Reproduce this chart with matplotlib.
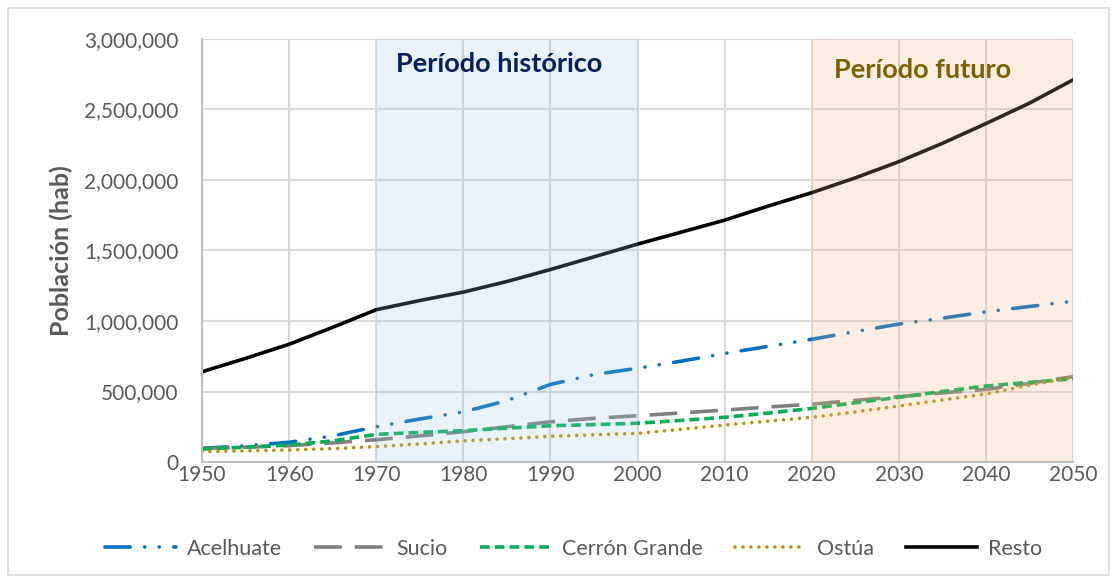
import numpy as np
import matplotlib
matplotlib.use('Agg')
import matplotlib.pyplot as plt
from matplotlib.patches import Rectangle
from matplotlib.ticker import FuncFormatter

plt.rcParams['font.family'] = ['Lato', 'DejaVu Sans']

years = list(range(1950, 2051, 5))

acelhuate = [97e3, 115e3, 140e3, 185e3, 250e3, 305e3, 355e3, 435e3, 550e3, 620e3, 665e3,
             715e3, 770e3, 820e3, 870e3, 925e3, 978e3, 1020e3, 1065e3, 1103e3, 1140e3]
sucio = [95e3, 105e3, 116e3, 135e3, 158e3, 185e3, 215e3, 250e3, 285e3, 310e3, 328e3,
         348e3, 368e3, 390e3, 410e3, 437e3, 463e3, 490e3, 515e3, 558e3, 605e3]
cerron_grande = [92e3, 105e3, 120e3, 150e3, 196e3, 210e3, 222e3, 240e3, 257e3, 265e3, 275e3,
                 295e3, 317e3, 347e3, 380e3, 420e3, 459e3, 500e3, 539e3, 565e3, 590e3]
ostua = [73e3, 79e3, 85e3, 95e3, 109e3, 128e3, 150e3, 165e3, 182e3, 193e3, 203e3,
         232e3, 262e3, 290e3, 317e3, 355e3, 397e3, 440e3, 482e3, 545e3, 600e3]
resto = [640e3, 735e3, 835e3, 955e3, 1080e3, 1145e3, 1205e3, 1280e3, 1365e3, 1455e3, 1545e3,
         1630e3, 1715e3, 1815e3, 1910e3, 2015e3, 2130e3, 2260e3, 2400e3, 2545e3, 2710e3]

series = [
    ('Acelhuate', acelhuate, '#0070C0', (0, (7.0, 4.0, 0.01, 4.0, 0.01, 4.0)), 2.6, 'round'),
    ('Sucio', sucio, '#808080', (0, (7.7, 3.6)), 2.6, 'butt'),
    ('Cerrón Grande', cerron_grande, '#00B050', (0, (2.7, 1.4)), 2.6, 'butt'),
    ('Ostúa', ostua, '#BF9000', (0, (0.01, 2.2)), 2.6, 'round'),
    ('Resto', resto, '#000000', '-', 2.6, 'round'),
]

fig = plt.figure(figsize=(11.17, 5.79), dpi=100)
ax = fig.add_axes([202 / 1117, 1 - 462 / 579, (1073 - 202) / 1117, (462 - 39) / 579])

for name, vals, color, ls, lw, cap in series:
    line, = ax.plot(years, vals, color=color, linestyle=ls, linewidth=lw, label=name,
                    zorder=2)
    line.set_dash_capstyle(cap)

# shaded periods drawn over the lines, like the reference
ax.axvspan(1970, 2000, color='#9DC3E6', alpha=0.22, zorder=3, lw=0)
ax.axvspan(2020, 2050, color='#F4B183', alpha=0.22, zorder=3, lw=0)

ax.text(1984.1, 2.82e6, 'Período histórico', color='#002060', fontsize=19.5,
        fontweight='bold', ha='center', va='center', zorder=4)
ax.text(2032.7, 2.78e6, 'Período futuro', color='#7F6000', fontsize=19.5,
        fontweight='bold', ha='center', va='center', zorder=4)

ax.set_xlim(1950, 2050)
ax.set_ylim(0, 3e6)
ax.set_xticks(range(1950, 2051, 10))
ax.set_yticks(np.arange(0, 3.0e6 + 1, 5e5))
ax.yaxis.set_major_formatter(FuncFormatter(lambda v, p: f'{int(v):,}'))
ax.grid(True, color='#D9D9D9', linewidth=1.5, zorder=1)
ax.set_axisbelow(True)
for s in ['top', 'right']:
    ax.spines[s].set_visible(False)
for s in ['left', 'bottom']:
    ax.spines[s].set_color('#BFBFBF')
    ax.spines[s].set_linewidth(1.5)
ax.tick_params(axis='both', colors='#595959', labelsize=15, length=0)
ax.tick_params(axis='y', pad=17)
ax.tick_params(axis='x', pad=2)
ax.set_ylabel('Población (hab)', color='#595959', fontsize=18, fontweight='bold',
              labelpad=8)

leg = fig.legend(loc='center', bbox_to_anchor=(0.5134, 1 - 549 / 579), ncol=5,
                 frameon=False, fontsize=15.5, handlelength=3.3, columnspacing=1.5,
                 handletextpad=0.5)
for t in leg.get_texts():
    t.set_color('#595959')

fig.patches.append(Rectangle((8 / 1117, 4 / 579), 1101 / 1117, 567 / 579,
                             transform=fig.transFigure, fill=False,
                             edgecolor='#D9D9D9', linewidth=1.2))

fig.savefig('out.png', dpi=100)
